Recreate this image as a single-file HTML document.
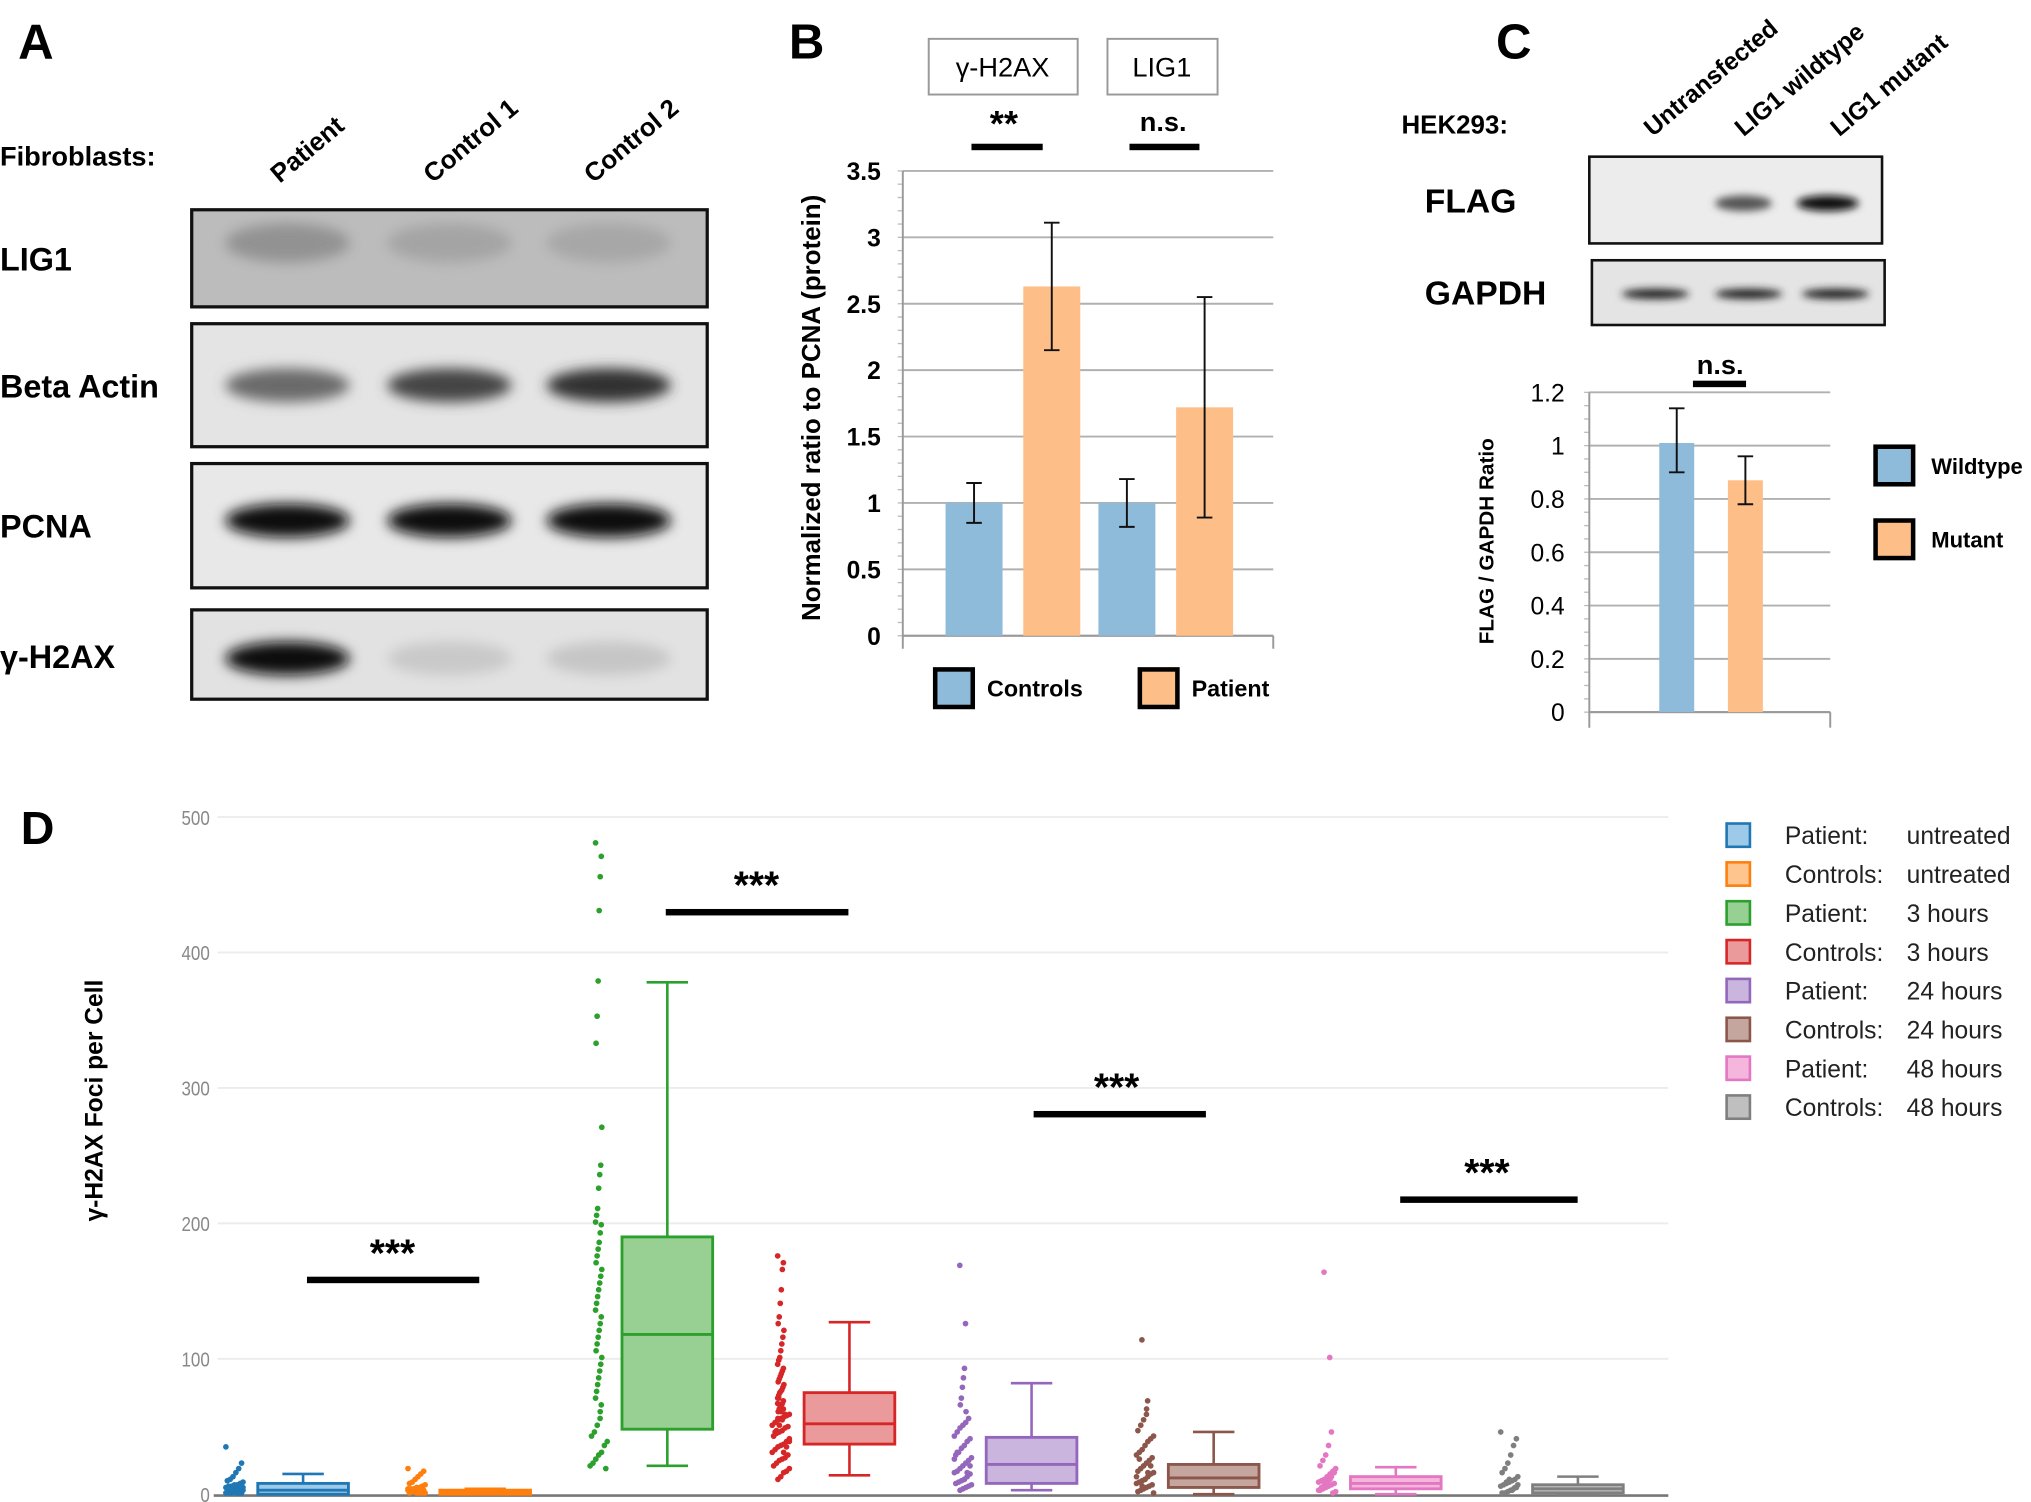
<!DOCTYPE html>
<html><head><meta charset="utf-8">
<style>
html,body{margin:0;padding:0;background:#fff;}
svg{display:block;font-family:"Liberation Sans",Arial,sans-serif;}
.b{font-weight:bold;}
</style></head>
<body>
<svg id="fig" width="2031" height="1502" viewBox="0 0 1568 1160" preserveAspectRatio="none" xmlns="http://www.w3.org/2000/svg">
<defs>
<filter id="blur4" x="-30%" y="-80%" width="160%" height="260%"><feGaussianBlur stdDeviation="5"/></filter>
<filter id="blur2" x="-30%" y="-80%" width="160%" height="260%"><feGaussianBlur stdDeviation="3"/></filter>
</defs>
<!-- Panel A -->
<g>
<text x="14" y="45" class="b" font-size="38">A</text>
<text x="0" y="128" class="b" font-size="21">Fibroblasts:</text>
<text class="b" font-size="20" transform="translate(216,142) rotate(-40)">Patient</text>
<text class="b" font-size="20" transform="translate(334,142) rotate(-40)">Control 1</text>
<text class="b" font-size="20" transform="translate(458,142) rotate(-40)">Control 2</text>
<text x="0" y="209" class="b" font-size="25">LIG1</text>
<text x="0" y="307" class="b" font-size="25">Beta Actin</text>
<text x="0" y="415" class="b" font-size="25">PCNA</text>
<text x="0" y="516" class="b" font-size="25">γ-H2AX</text>
<g id="blotsA"></g>
</g>
<!-- Panel B -->
<g>
<text x="609" y="45" class="b" font-size="38">B</text>
<rect x="717" y="30" width="115" height="43" fill="#fff" stroke="#999" stroke-width="1.5"/>
<text x="774" y="59" text-anchor="middle" font-size="21">γ-H2AX</text>
<rect x="855" y="30" width="85" height="43" fill="#fff" stroke="#999" stroke-width="1.5"/>
<text x="897" y="59" text-anchor="middle" font-size="21">LIG1</text>
<g id="chartB"></g>
</g>
<!-- Panel C -->
<g>
<text x="1155" y="45" class="b" font-size="38">C</text>
<text x="1082" y="103" class="b" font-size="20">HEK293:</text>
<text class="b" font-size="19" transform="translate(1276,106) rotate(-40)">Untransfected</text>
<text class="b" font-size="19" transform="translate(1346,106) rotate(-40)">LIG1 wildtype</text>
<text class="b" font-size="19" transform="translate(1420,106) rotate(-40)">LIG1 mutant</text>
<text x="1100" y="164" class="b" font-size="26">FLAG</text>
<text x="1100" y="235" class="b" font-size="26">GAPDH</text>
<g id="blotsC"></g>
<g id="chartC"></g>
</g>
<!-- Panel D -->
<g>
<text x="16" y="652" class="b" font-size="36">D</text>
<g id="chartD"></g>
</g>
</svg>
<script>
const NS="http://www.w3.org/2000/svg";
function mk(parent,tag,attrs,txt){const e=document.createElementNS(NS,tag);for(const k in attrs)e.setAttribute(k,attrs[k]);if(txt!==undefined)e.textContent=txt;parent.appendChild(e);return e;}

// ---------- Panel B data ----------
const bCategories=["γ-H2AX","LIG1"];
const bControls=[1,1];
const bPatient=[2.63,1.72];
const bControlsErrLo=[0.85,0.82];
const bControlsErrHi=[1.15,1.18];
const bPatientErrLo=[2.15,0.89];
const bPatientErrHi=[3.11,2.55];
const bTicks=["0","0.5","1","1.5","2","2.5","3","3.5"];
// ---------- Panel C data ----------
const cCategories=["Wildtype","Mutant"];
const cValues=[1.01,0.87];
const cErrLo=[0.90,0.78];
const cErrHi=[1.14,0.96];
const cTicks=["0","0.2","0.4","0.6","0.8","1","1.2"];
// ---------- Panel D data ----------
const dGroups=["Patient: untreated","Controls: untreated","Patient: 3 hours","Controls: 3 hours","Patient: 24 hours","Controls: 24 hours","Patient: 48 hours","Controls: 48 hours"];
const dQ1=[0,0,48,37,8,5,4,1];
const dMedian=[3,1,118,52,22,12,8,4];
const dQ3=[8,3,190,75,42,22,13,7];
const dWhiskLo=[0,0,21,14,3,0,0,0];
const dWhiskHi=[15,4,378,127,82,46,20,13];
const dTicks=["0","100","200","300","400","500"];
const dPtsPU=[34,22,18,15,12,10,9,8,7,6,6,5,5,4,4,3,3,3,2,2,2,1,1,1,0,0,0,0,0,0,1,2,3,4,5,0,1,2];
const dPtsCU=[18,16,14,12,10,8,7,6,5,4,4,3,3,2,2,2,1,1,1,0,0,0,0,0,1,2,3,0,1];
const dPtsP3=[480,470,455,430,378,352,332,270,242,235,225,210,205,200,198,192,185,180,175,170,165,160,155,150,145,140,135,130,125,120,115,110,105,100,95,90,85,80,75,70,65,60,55,50,45,42,38,35,30,28,25,22,20,18];
const dPtsC3=[175,170,165,150,140,130,125,120,115,110,105,100,98,95,92,90,88,86,84,82,80,78,76,75,74,72,70,68,66,65,64,62,60,58,57,56,55,54,52,50,49,48,46,45,44,42,40,38,36,35,34,32,30,28,26,25,24,22,20,18,16,15,12,10,70,66,62,58,54,50,46,42,38,34,30,60,55,45];
const dPtsP24=[168,125,92,85,78,70,65,60,55,52,50,48,45,42,40,38,35,33,30,28,26,24,22,20,18,16,15,14,12,10,9,8,7,6,5,4,3,2,30,25,20,15,10];
const dPtsC24=[113,68,62,58,54,50,46,42,40,38,35,32,30,28,26,24,22,20,18,16,15,14,12,10,9,8,7,6,5,4,3,2,1,0,20,15,10,5,25,12];
const dPtsP48=[163,100,45,35,28,24,20,18,16,14,12,10,9,8,7,6,5,4,3,2,1,0,10,8,6,4,2,15,12];
const dPtsC48=[45,40,35,28,22,18,15,12,10,9,8,7,6,5,4,3,2,1,0,0,6,4,2,10,8];
const dPoints=[dPtsPU,dPtsCU,dPtsP3,dPtsC3,dPtsP24,dPtsC24,dPtsP48,dPtsC48];

// ---------- Blots ----------
(function(){
 const g=document.getElementById('blotsA');
 const blots=[
  {name:'lig1-blot',y:162,h:75,bg:'#bcbcbc',bands:[['#8e8e8e',0.9],['#9f9f9f',0.8],['#a2a2a2',0.8]],by:-12,bh:22},
  {name:'beta-actin-blot',y:250,h:95,bg:'#e4e4e4',bands:[['#6a6a6a',1],['#444',1],['#333',1]],by:0,bh:18},
  {name:'pcna-blot',y:358,h:96,bg:'#e8e8e8',bands:[['#0c0c0c',1],['#080808',1],['#111',1]],by:-4,bh:18},
  {name:'h2ax-blot',y:471,h:69,bg:'#e2e2e2',bands:[['#0a0a0a',1],['#c9c9c9',1],['#c6c6c6',1]],by:3,bh:18}];
 const bx=[222,347,470];
 blots.forEach(b=>{
  const gg=mk(g,'g',{});
  
  
  mk(gg,'rect',{x:148,y:b.y,width:398,height:b.h,fill:b.bg});
  b.bands.forEach((bd,i)=>{mk(gg,'ellipse',{cx:bx[i],cy:b.y+b.h/2+b.by,rx:48,ry:b.bh/2+4,fill:bd[0],opacity:bd[1],filter:'url(#blur4)'});});
  mk(gg,'rect',{x:148,y:b.y,width:398,height:b.h,fill:'none',stroke:'#111','stroke-width':2.5});
 });
 const gc=document.getElementById('blotsC');
 const f=mk(gc,'g',{});
 
 
 mk(f,'rect',{x:1227,y:121,width:226,height:67,fill:'#ececec'});
 mk(f,'ellipse',{cx:1346,cy:157,rx:22,ry:6,fill:'#555',filter:'url(#blur2)'});
 mk(f,'ellipse',{cx:1411,cy:157,rx:24,ry:6,fill:'#111',filter:'url(#blur2)'});
 mk(f,'rect',{x:1227,y:121,width:226,height:67,fill:'none',stroke:'#111','stroke-width':2});
 const gp=mk(gc,'g',{});
 
 
 mk(gp,'rect',{x:1229,y:201,width:226,height:50,fill:'#e4e4e4'});
 [1278,1350,1417].forEach(x=>mk(gp,'ellipse',{cx:x,cy:227,rx:26,ry:4,fill:'#222',filter:'url(#blur2)'}));
 mk(gp,'rect',{x:1229,y:201,width:226,height:50,fill:'none',stroke:'#111','stroke-width':2});
})();

// ---------- Chart B ----------
(function(){
 const g=document.getElementById('chartB');
 const x0=697,x1=983,yb=491,yt=132,max=3.5;
 const y=v=>yb-(v/max)*(yb-yt);
 bTicks.forEach(t=>{const v=+t;
  const l=mk(g,'line',{x1:x0,x2:x1,y1:y(v),y2:y(v),stroke:'#b0b0b0','stroke-width':1.5});
  
  const tx=mk(g,'text',{x:680,y:y(v)+7,'text-anchor':'end','font-size':19,'font-weight':'bold'},t);
  
 });
 for(let i=0;i<=35;i++){mk(g,'line',{x1:x0-4,x2:x0,y1:y(i*0.1),y2:y(i*0.1),stroke:'#bbb','stroke-width':1});}
 mk(g,'line',{x1:x0,x2:x0,y1:yt,y2:yb+10,stroke:'#999','stroke-width':1.5});
 mk(g,'line',{x1:x0,x2:x1,y1:yb,y2:yb,stroke:'#999','stroke-width':1.5});
 mk(g,'line',{x1:x1,x2:x1,y1:yb,y2:yb+10,stroke:'#999','stroke-width':1.5});
 const groupW=118, bw=44;
 bCategories.forEach((c,i)=>{
  const gx=730+i*groupW;
  const series=[[bControls[i],bControlsErrLo[i],bControlsErrHi[i],'#8fbbda',gx,'controls'],[bPatient[i],bPatientErrLo[i],bPatientErrHi[i],'#fdbf87',gx+60,'patient']];
  series.forEach(s=>{
   const r=mk(g,'rect',{x:s[4],y:y(s[0]),width:bw,height:yb-y(s[0]),fill:s[3]});
   
   const cx=s[4]+bw/2;
   const e=mk(g,'path',{d:`M${cx-6},${y(s[2])}H${cx+6}M${cx},${y(s[2])}V${y(s[1])}M${cx-6},${y(s[1])}H${cx+6}`,stroke:'#111','stroke-width':1.5,fill:'none'});
   
  });
 });
 const t=mk(g,'text',{transform:'translate(633,315) rotate(-90)','text-anchor':'middle','font-size':20,'font-weight':'bold'},'Normalized ratio to PCNA (protein)');
 
 // significance
 const s1=mk(g,'text',{x:775,y:105,'text-anchor':'middle','font-size':28,'font-weight':'bold'},'**');
 
 mk(g,'rect',{x:750,y:111,width:55,height:5,fill:'#000'});
 const s2=mk(g,'text',{x:898,y:101,'text-anchor':'middle','font-size':21,'font-weight':'bold'},'n.s.');
 
 mk(g,'rect',{x:872,y:111,width:54,height:5,fill:'#000'});
 // legend
 [['Controls','#8fbbda',720,762],['Patient','#fdbf87',878,920]].forEach(l=>{
  const lg=mk(g,'g',{});
  
  mk(lg,'rect',{x:l[2]+2,y:517,width:29,height:29,fill:l[1],stroke:'#000','stroke-width':3.5});
  mk(lg,'text',{x:l[3],y:538,'font-size':18,'font-weight':'bold'},l[0]);
 });
})();

// ---------- Chart C ----------
(function(){
 const g=document.getElementById('chartC');
 const x0=1227,x1=1413,yb=550,yt=303,max=1.2;
 const y=v=>yb-(v/max)*(yb-yt);
 cTicks.forEach(t=>{const v=+t;
  const l=mk(g,'line',{x1:x0,x2:x1,y1:y(v),y2:y(v),stroke:'#b0b0b0','stroke-width':1.5});
  
  const tx=mk(g,'text',{x:1208,y:y(v)+7,'text-anchor':'end','font-size':19},t);
  
 });
 for(let i=0;i<=24;i++){mk(g,'line',{x1:x0-4,x2:x0,y1:y(i*0.05),y2:y(i*0.05),stroke:'#bbb','stroke-width':1});}
 mk(g,'line',{x1:x0,x2:x0,y1:yt,y2:yb+12,stroke:'#999','stroke-width':1.5});
 mk(g,'line',{x1:x0,x2:x1,y1:yb,y2:yb,stroke:'#999','stroke-width':1.5});
 mk(g,'line',{x1:x1,x2:x1,y1:yb,y2:yb+12,stroke:'#999','stroke-width':1.5});
 const cols=['#8fbbda','#fdbf87'];
 cCategories.forEach((c,i)=>{
  const bx=1281+i*53,bw=27;
  const r=mk(g,'rect',{x:bx,y:y(cValues[i]),width:bw,height:yb-y(cValues[i]),fill:cols[i]});
  
  const cx=bx+bw/2;
  const e=mk(g,'path',{d:`M${cx-6},${y(cErrHi[i])}H${cx+6}M${cx},${y(cErrHi[i])}V${y(cErrLo[i])}M${cx-6},${y(cErrLo[i])}H${cx+6}`,stroke:'#111','stroke-width':1.5,fill:'none'});
  
  const lg=mk(g,'g',{});
  
  mk(lg,'rect',{x:1448,y:345+i*57,width:29,height:29,fill:cols[i],stroke:'#000','stroke-width':3.5});
  mk(lg,'text',{x:1491,y:366+i*57,'font-size':17,'font-weight':'bold'},c);
 });
 const t=mk(g,'text',{transform:'translate(1153,418) rotate(-90)','text-anchor':'middle','font-size':16,'font-weight':'bold'},'FLAG / GAPDH Ratio');
 
 const s=mk(g,'text',{x:1328,y:289,'text-anchor':'middle','font-size':21,'font-weight':'bold'},'n.s.');
 
 mk(g,'rect',{x:1307,y:294,width:41,height:5,fill:'#000'});
})();

// ---------- Chart D ----------
(function(){
 const g=document.getElementById('chartD');
 const x0=168,x1=1288,yb=1154,yt=631,max=500;
 const y=v=>yb-(v/max)*(yb-yt);
 const colors=['#1f77b4','#ff7f0e','#2ca02c','#d62728','#9467bd','#8c564b','#e377c2','#7f7f7f'];
 const fills=['#9ecae9','#ffc58f','#98d094','#eb9a9b','#c9b5de','#c4a69e','#f4b6dc','#bfbfbf'];
 dTicks.forEach(t=>{const v=+t;
  if(v>0){const l=mk(g,'line',{x1:x0,x2:x1,y1:y(v),y2:y(v),stroke:'#ececec','stroke-width':1.5});
   }
  const tx=mk(g,'text',{x:162,y:y(v)+6,'text-anchor':'end','font-size':16,fill:'#888',transform:`translate(${162*0.18},0) scale(0.82,1)`},t);
  
 });
 const ax=mk(g,'line',{x1:165,x2:x1,y1:yb+1,y2:yb+1,stroke:'#777','stroke-width':2});
 
 const step=140.6, bw=70;
 dGroups.forEach((name,i)=>{
  const cx=234+i*step, dx=cx-53;
  const gg=mk(g,'g',{});
  
  dPoints[i].forEach((v,k)=>{
   const jit=((k*37)%13-6)*(v<60?1.1:0.4);
   mk(gg,'circle',{cx:dx+jit,cy:y(v)-1,r:2.2,fill:colors[i]});
  });
  const c=colors[i];
  mk(gg,'line',{x1:cx,x2:cx,y1:y(dWhiskHi[i]),y2:y(dQ3[i]),stroke:c,'stroke-width':2});
  mk(gg,'line',{x1:cx,x2:cx,y1:y(dQ1[i]),y2:y(dWhiskLo[i]),stroke:c,'stroke-width':2});
  mk(gg,'line',{x1:cx-16,x2:cx+16,y1:y(dWhiskHi[i]),y2:y(dWhiskHi[i]),stroke:c,'stroke-width':2});
  mk(gg,'line',{x1:cx-16,x2:cx+16,y1:y(dWhiskLo[i]),y2:y(dWhiskLo[i]),stroke:c,'stroke-width':2});
  const box=mk(gg,'rect',{x:cx-bw/2,y:y(dQ3[i]),width:bw,height:Math.max(2,y(dQ1[i])-y(dQ3[i])),fill:fills[i],stroke:c,'stroke-width':2.2});
  
  mk(gg,'line',{x1:cx-bw/2,x2:cx+bw/2,y1:y(dMedian[i]),y2:y(dMedian[i]),stroke:c,'stroke-width':2.2});
  // legend
  const lg=mk(g,'g',{});
  
  const ly=645+i*30;
  mk(lg,'rect',{x:1333,y:ly-9,width:18,height:18,fill:fills[i],stroke:c,'stroke-width':2});
  const parts=name.split(': ');
  mk(lg,'text',{x:1378,y:ly+7,'font-size':19,fill:'#222'},parts[0]+':');
  mk(lg,'text',{x:1472,y:ly+7,'font-size':19,fill:'#222'},parts[1]);
 });
 [[303,978,237,370],[584,694,514,655],[862,850,798,931],[1148,916,1081,1218]].forEach((s,i)=>{
  const t=mk(g,'text',{x:s[0],y:s[1],'text-anchor':'middle','font-size':30,'font-weight':'bold'},'***');
  
  mk(g,'rect',{x:s[2],y:s[1]+8,width:s[3]-s[2],height:5,fill:'#000'});
 });
 const t=mk(g,'text',{transform:'translate(79,850) rotate(-90)','text-anchor':'middle','font-size':19,'font-weight':'bold'},'γ-H2AX Foci per Cell');
 
})();
</script>
</body></html>
